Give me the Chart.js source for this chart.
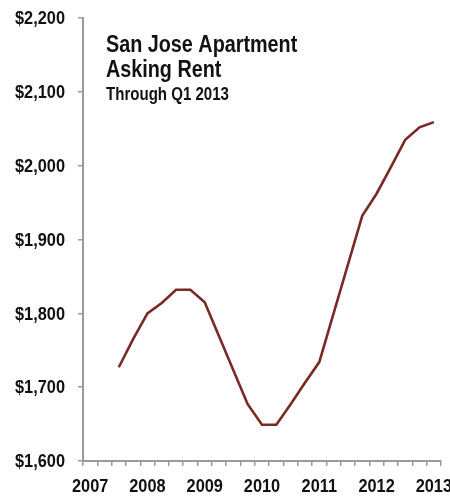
<!DOCTYPE html>
<html>
<head>
<meta charset="utf-8">
<script src="https://cdn.jsdelivr.net/npm/chart.js@4.4.1/dist/chart.umd.min.js"></script>
<style>
  html, body { margin: 0; padding: 0; background: #ffffff; }
  #wrap { width: 450px; height: 496px; position: relative; }
</style>
</head>
<body>
<div id="wrap"><canvas id="chart"></canvas></div>
<script>
// Quarterly categories, Q1 2007 through Q1 2013
const quarters = [
  'Q1 2007', 'Q2 2007', 'Q3 2007', 'Q4 2007',
  'Q1 2008', 'Q2 2008', 'Q3 2008', 'Q4 2008',
  'Q1 2009', 'Q2 2009', 'Q3 2009', 'Q4 2009',
  'Q1 2010', 'Q2 2010', 'Q3 2010', 'Q4 2010',
  'Q1 2011', 'Q2 2011', 'Q3 2011', 'Q4 2011',
  'Q1 2012', 'Q2 2012', 'Q3 2012', 'Q4 2012',
  'Q1 2013'
];

// Average asking rent, dollars per month (series starts Q3 2007)
const askingRent = [
  null, null, 1727, 1765,
  1800, 1814, 1832, 1832,
  1815, 1769, 1723, 1677,
  1649, 1649, 1677, 1706,
  1734, 1800, 1866, 1932,
  1962, 1998, 2035, 2052,
  2059
];

// Year labels shown under each Q1 category
const yearTicks = ['2007', '2008', '2009', '2010', '2011', '2012', '2013'];

const titleLines = ['San Jose Apartment', 'Asking Rent'];
const subtitleText = 'Through Q1 2013';

const fontFamily = '"Liberation Sans", Arial, sans-serif';
const squeeze = 0.86;          // horizontal compression for a condensed look
const axisGray = '#9a9a9a';
const inkColor = '#111111';

// Draws text squeezed horizontally around its anchor point
function condensedText(ctx, text, x, y, align, baseline, size) {
  ctx.save();
  ctx.font = 'bold ' + size + 'px ' + fontFamily;
  ctx.textAlign = align;
  ctx.textBaseline = baseline;
  ctx.translate(x, y);
  ctx.scale(squeeze, 1);
  ctx.fillText(text, 0, 0);
  ctx.restore();
}

// Axis labels placed from the scales, plus the heading inside the plot area
const labelPlugin = {
  id: 'condensedLabels',
  afterDraw(chart) {
    const { ctx, chartArea } = chart;
    const xs = chart.scales.x;
    const ys = chart.scales.y;
    ctx.save();
    ctx.fillStyle = inkColor;

    ys.ticks.forEach(t => {
      const py = ys.getPixelForValue(t.value);
      condensedText(ctx, '$' + t.value.toLocaleString('en-US'),
        ys.right - 18, py + 1, 'right', 'middle', 19);
    });

    quarters.forEach((q, i) => {
      if (i % 4 !== 0) return;
      const px = xs.getPixelForValue(i);
      condensedText(ctx, yearTicks[i / 4], px, xs.top + 31, 'center', 'alphabetic', 19);
    });

    const hx = chartArea.left + 23;
    condensedText(ctx, titleLines[0], hx, chartArea.top + 34, 'left', 'alphabetic', 23);
    condensedText(ctx, titleLines[1], hx, chartArea.top + 59, 'left', 'alphabetic', 23);
    condensedText(ctx, subtitleText, hx, chartArea.top + 82, 'left', 'alphabetic', 17.5);
    ctx.restore();
  }
};

new Chart(document.getElementById('chart'), {
  type: 'line',
  data: {
    labels: quarters,
    datasets: [{
      data: askingRent,
      borderColor: '#7a2a25',
      borderWidth: 2.6,
      pointRadius: 0,
      tension: 0,
      fill: false,
      spanGaps: false
    }]
  },
  options: {
    responsive: true,
    maintainAspectRatio: false,
    animation: false,
    devicePixelRatio: 1,
    layout: { padding: { left: 0, right: 9, top: 18, bottom: 0 } },
    plugins: {
      legend: { display: false },
      tooltip: { enabled: false },
      title: { display: false }
    },
    scales: {
      x: {
        type: 'category',
        offset: true,
        afterFit(scale) { scale.height = 35; },
        grid: {
          display: true,
          drawOnChartArea: false,
          offset: true,
          tickLength: 5,
          color: axisGray,
          lineWidth: 1.5
        },
        border: { display: true, color: axisGray, width: 2 },
        ticks: { display: false, autoSkip: false }
      },
      y: {
        min: 1600,
        max: 2200,
        afterFit(scale) { scale.width = 83; },
        grid: {
          display: true,
          drawOnChartArea: false,
          tickLength: 5,
          color: axisGray,
          lineWidth: 1.5
        },
        border: { display: true, color: axisGray, width: 2 },
        ticks: { display: false, stepSize: 100 }
      }
    }
  },
  plugins: [labelPlugin]
});
</script>
</body>
</html>
